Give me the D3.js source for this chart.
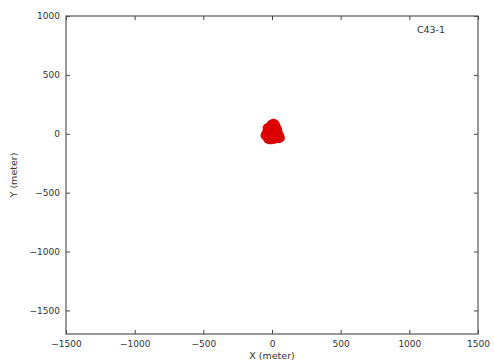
<!DOCTYPE html>
<html>
<head>
<meta charset="utf-8">
<script src="https://cdn.jsdelivr.net/npm/d3@7/dist/d3.min.js"></script>
<style>
  html, body { margin: 0; padding: 0; background: #fff; }
  svg { display: block; }
  text { font-family: "DejaVu Sans", sans-serif; fill: #333; }
</style>
</head>
<body>
<svg id="chart" width="494" height="362"></svg>
<script>
// Antenna pad positions for configuration C43-1 (metres, east / north)
const padX = [-40, -30, -15, 0, 15, 30, 45, 55, -45, -30, -15, 0, 15, 30, 45,
              -35, -20, -5, 10, 25, 40, -25, -10, 5, 20, 35, -15, 0, 15, 28,
              -5, 10, 22, -30, 50, 60, -50, 0, 30, -20, 8, 40, -35];
const padY = [-20, -45, -50, -48, -45, -40, -35, -15, 0, -5, -10, -15, -12, -8, 5,
              20, 15, 10, 12, 15, 20, 40, 35, 40, 38, 45, 60, 55, 62, 65,
              80, 88, 82, -30, -40, -35, -15, 25, 0, -30, -30, 35, 50];
const configName = "C43-1";
const xTicks = [-1500, -1000, -500, 0, 500, 1000, 1500];
const yTicks = [-1500, -1000, -500, 0, 500, 1000];
const xDomain = [-1500, 1500];
const yDomain = [-1700, 1000];

const svg = d3.select("#chart");
const m = { left: 66, right: 16, top: 16, bottom: 28 };
const W = 494, H = 362;
const iw = W - m.left - m.right, ih = H - m.top - m.bottom;

const x = d3.scaleLinear().domain(xDomain).range([m.left, m.left + iw]);
const y = d3.scaleLinear().domain(yDomain).range([m.top + ih, m.top]);
const fmt = d => (d < 0 ? "\u2212" + Math.abs(d) : String(d));

const g = svg.append("g");

// antennas
g.selectAll("circle.ant").data(padX.map((v, i) => [v, padY[i]]))
  .join("circle")
  .attr("class", "ant")
  .attr("cx", d => x(d[0]))
  .attr("cy", d => y(d[1]))
  .attr("r", 4.4)
  .attr("fill", "#e00000")
  .attr("stroke", "#b80000")
  .attr("stroke-width", 0.4);

// axes with inward ticks on all sides
const tickLen = 4;
const axBottom = d3.axisBottom(x).tickValues(xTicks).tickFormat(fmt).tickSizeInner(-tickLen).tickSizeOuter(0).tickPadding(7);
const axTop = d3.axisTop(x).tickValues(xTicks).tickFormat("").tickSizeInner(-tickLen).tickSizeOuter(0);
const axLeft = d3.axisLeft(y).tickValues(yTicks).tickFormat(fmt).tickSizeInner(-tickLen).tickSizeOuter(0).tickPadding(6);
const axRight = d3.axisRight(y).tickValues(yTicks).tickFormat("").tickSizeInner(-tickLen).tickSizeOuter(0);

const styleAxis = sel => {
  sel.select(".domain").remove();
  sel.selectAll(".tick line").attr("stroke", "#444");
  sel.selectAll(".tick text").attr("font-size", 9).attr("fill", "#333")
     .attr("font-family", "DejaVu Sans, sans-serif");
};
svg.append("g").attr("transform", `translate(0,${m.top + ih})`).call(axBottom).call(styleAxis);
svg.append("g").attr("transform", `translate(0,${m.top})`).call(axTop).call(styleAxis);
svg.append("g").attr("transform", `translate(${m.left},0)`).call(axLeft).call(styleAxis);
svg.append("g").attr("transform", `translate(${m.left + iw},0)`).call(axRight).call(styleAxis);

// frame
svg.append("rect")
  .attr("x", m.left).attr("y", m.top).attr("width", iw).attr("height", ih)
  .attr("fill", "none").attr("stroke", "#555").attr("stroke-width", 1.2);

// labels
svg.append("text").attr("x", x(0)).attr("y", H - 3)
  .attr("text-anchor", "middle").attr("font-size", 9.5).text("X (meter)");
svg.append("text")
  .attr("transform", `translate(17,${m.top + ih / 2}) rotate(-90)`)
  .attr("text-anchor", "middle").attr("font-size", 9.5).text("Y (meter)");
svg.append("text").attr("x", 431).attr("y", 33)
  .attr("text-anchor", "middle").attr("font-size", 9.5).text(configName);
</script>
</body>
</html>
